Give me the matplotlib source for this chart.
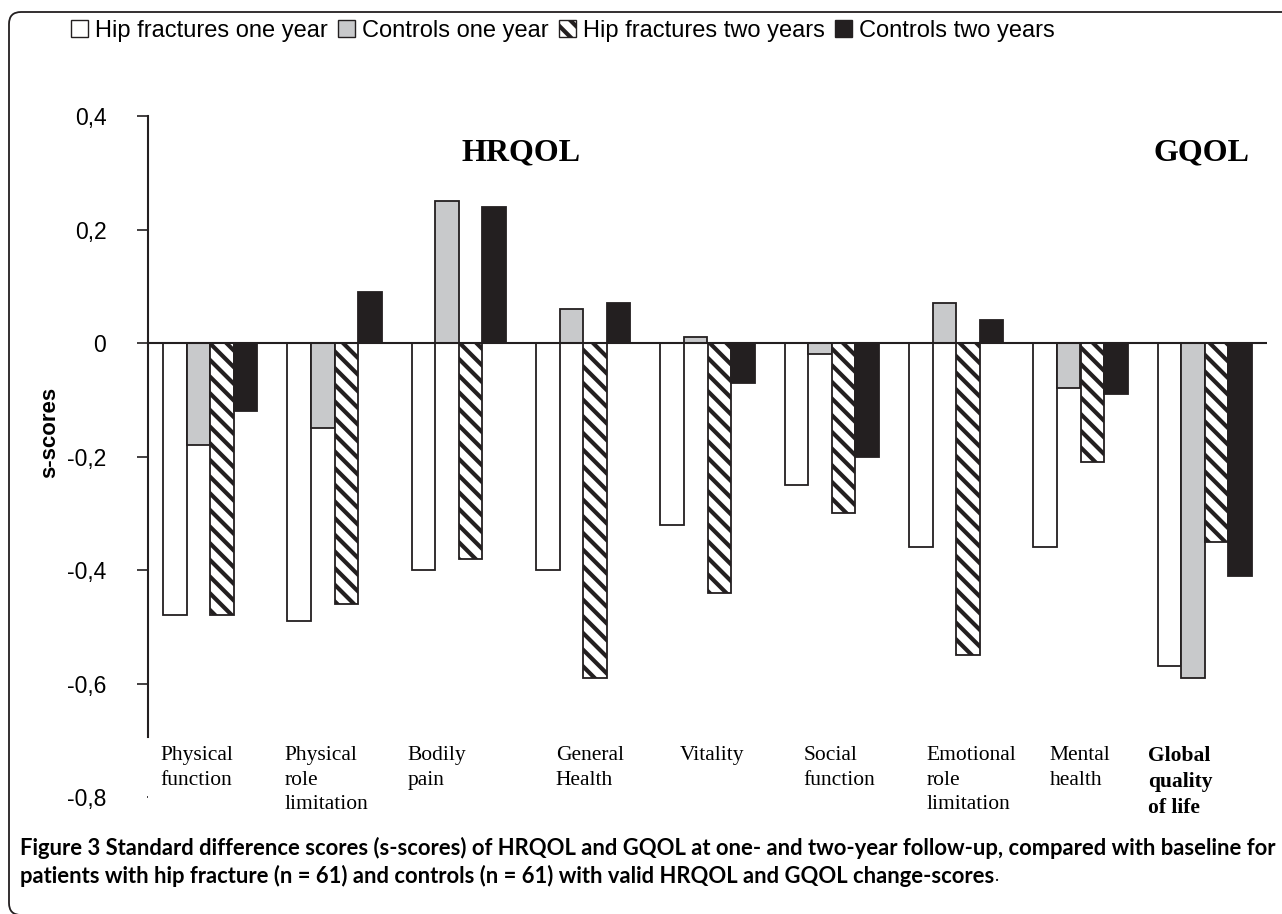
import numpy as np
import matplotlib.pyplot as plt
from matplotlib.patches import Patch, FancyBboxPatch

# data
categories = ["Physical\nfunction", "Physical\nrole\nlimitation", "Bodily\npain",
              "General\nHealth", "Vitality", "Social\nfunction",
              "Emotional\nrole\nlimitation", "Mental\nhealth",
              "Global\nquality\nof life"]
series = ["Hip fractures one year", "Controls one year",
          "Hip fractures two years", "Controls two years"]
hip_1y = [-0.48, -0.49, -0.40, -0.40, -0.32, -0.25, -0.36, -0.36, -0.57]
ctl_1y = [-0.18, -0.15, 0.25, 0.06, 0.01, -0.02, 0.07, -0.08, -0.59]
hip_2y = [-0.48, -0.46, -0.38, -0.59, -0.44, -0.30, -0.55, -0.21, -0.35]
ctl_2y = [-0.12, 0.09, 0.24, 0.07, -0.07, -0.20, 0.04, -0.09, -0.41]
yticks = [-0.8, -0.6, -0.4, -0.2, 0, 0.2, 0.4]
ytick_labels = ["-0,8", "-0,6", "-0,4", "-0,2", "0", "0,2", "0,4"]

dark = "#231f20"
gray = "#c8c9cb"
label_off = [0.10, 0.10, 0.09, 0.28, 0.28, 0.27, 0.26, 0.25, 0.04]

plt.rcParams['hatch.linewidth'] = 3.0
plt.rcParams['hatch.color'] = dark

fig = plt.figure(figsize=(12.82, 9.14), dpi=100)
ax = fig.add_axes([148/1282, 117/914, (1267-148)/1282, 681/914])

x = np.arange(len(categories)) + 0.5
w = 0.19
styles = [dict(color="white", edgecolor=dark, hatch=None),
          dict(color=gray, edgecolor=dark, hatch=None),
          dict(color="white", edgecolor=dark, hatch="\\\\"),
          dict(color=dark, edgecolor=dark, hatch=None)]
for i, vals in enumerate([hip_1y, ctl_1y, hip_2y, ctl_2y]):
    st = styles[i]
    ax.bar(x + (i - 1.5)*w, vals, w, color=st["color"], edgecolor=st["edgecolor"],
           hatch=st["hatch"], linewidth=1.3, zorder=2)

ax.set_xlim(0, 9)
ax.set_ylim(-0.8, 0.4)
ax.axhline(0, color=dark, lw=1.5, zorder=3)
for s in ["top", "right", "bottom"]:
    ax.spines[s].set_visible(False)
ax.spines["left"].set_bounds(-0.695, 0.4)
ax.spines["left"].set_linewidth(1.5)
ax.spines["left"].set_color(dark)
ax.set_xticks([])
ax.set_yticks(yticks)
ax.set_yticklabels(ytick_labels, fontsize=16.5, family="Liberation Sans")
ax.tick_params(axis="y", length=8, width=1.2, color=dark, pad=22)
ax.yaxis.get_major_ticks()[0].tick1line.set_markersize(1)

for k, lab in enumerate(categories):
    ax.text(k + label_off[k], -0.71, lab, ha="left", va="top", fontsize=15.5,
            family="Liberation Serif", linespacing=1.4, multialignment="left",
            fontweight="bold" if k == 8 else "normal")

ax.text(3.0, 0.335, "HRQOL", ha="center", va="center", fontsize=23,
        family="Liberation Serif", fontweight="bold")
ax.text(8.47, 0.335, "GQOL", ha="center", va="center", fontsize=23,
        family="Liberation Serif", fontweight="bold")

fig.text(50/1282, 1 - 432/914, "s-scores", rotation=90, ha="center", va="center",
         fontsize=16, fontweight="bold", family="Liberation Sans")

handles = [Patch(facecolor=st["color"], edgecolor=dark, hatch=st["hatch"], linewidth=1.0)
           for st in styles]
fig.legend(handles, series, loc="center", bbox_to_anchor=(563/1282, 1 - 31/914),
           ncol=4, frameon=False, handlelength=0.7, handleheight=0.7,
           handletextpad=0.3, columnspacing=0.45,
           prop={"family": "Liberation Sans", "size": 17})

# caption
cap1 = ("Figure 3 Standard difference scores (s-scores) of HRQOL and GQOL at one- and "
        "two-year follow-up, compared with baseline for")
cap2 = ("patients with hip fracture (n = 61) and controls (n = 61) with valid HRQOL "
        "and GQOL change-scores")
t1 = fig.text(20/1282, 1 - 848/914, cap1, ha="left", va="center", fontsize=13,
              fontweight="bold", family="Lato")
r = fig.canvas.get_renderer()
fs = 13 * 1248 / t1.get_window_extent(r).width
t1.set_fontsize(fs)
t2 = fig.text(20/1282, 1 - 876/914, cap2, ha="left", va="center", fontsize=fs,
              fontweight="bold", family="Lato")
e2 = t2.get_window_extent(r)
fig.text(e2.x1/1282, 1 - 876/914, ".", ha="left", va="center", fontsize=fs*0.8,
         family="Lato")

# frame around the figure
frame = FancyBboxPatch((9, -1), 1400, 903, boxstyle="round,pad=0,rounding_size=12",
                       transform=None, facecolor="none", edgecolor=dark, lw=1.3)
fig.patches.append(frame)

fig.savefig("out.png", dpi=100)
